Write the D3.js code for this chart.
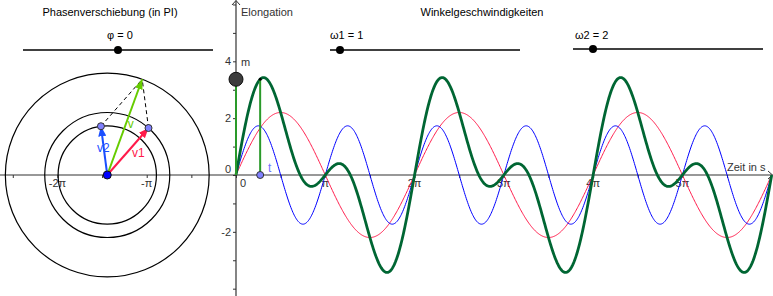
<!DOCTYPE html>
<html lang="de">
<head>
<meta charset="UTF-8">
<title>Überlagerung von Schwingungen</title>
<script src="https://d3js.org/d3.v7.min.js"></script>
<style>
    body { margin: 0; background: #fff; }
    svg { display: block; font-family: 'Liberation Sans', Arial, sans-serif; }
</style>
</head>
<body>
<div id="chart"></div>
<script>
// values
var amplitudes = [2.2, 1.73];        // r1 (v1, rot), r2 (v2, blau)
var omegas = [1, 2];                 // ω1, ω2
var phi = 0;                         // Phasenverschiebung (in PI)
var tNow = 0.85;                     // aktueller Zeitpunkt t
var circleCenter = [-4.53, 0];       // Mittelpunkt der Kreise
var xTickMultiples = [-2, -1, 1, 2, 3, 4, 5];   // Vielfache von π
var xTickLabels = ["-2π", "-π", "π", "2π", "3π", "4π", "5π"];
var yTickValues = [-2, 2, 4];
var yTickLabels = ["-2", "2", "4"];
var sliderLabels = ["φ = 0", "ω1 = 1", "ω2 = 2"];
var sliderValues = [0, 1, 2];
var sliderDomains = [[-1, 1], [0, 19], [0, 19]];

var width = 773, height = 296;
var svg = d3.select("#chart").append("svg")
    .attr("width", width)
    .attr("height", height);

// same scale on both axes (GeoGebra view)
var x = d3.scaleLinear().domain([0, 6 * Math.PI]).range([236, 771.7]);
var unit = x(1) - x(0);
var y = d3.scaleLinear().domain([0, 1]).range([175, 175 - unit]);

var axisColor = "#333";

// ---- axes ----
var halfPi = d3.range(-5, 12).map(function (k) { return k * Math.PI / 2; });
var xAxis = svg.append("g")
    .attr("transform", "translate(0," + y(0) + ")")
    .call(d3.axisBottom(x).tickValues(halfPi).tickSize(3).tickFormat(""));
xAxis.select(".domain").remove();
xAxis.selectAll("line").attr("stroke", axisColor);

var yAxis = svg.append("g")
    .attr("transform", "translate(" + x(0) + ",0)")
    .call(d3.axisLeft(y).tickValues(d3.range(-4, 7)).tickSize(3).tickFormat(""));
yAxis.select(".domain").remove();
yAxis.selectAll("line").attr("stroke", axisColor);

svg.append("line")
    .attr("x1", 0).attr("x2", width - 0.5)
    .attr("y1", y(0)).attr("y2", y(0))
    .attr("stroke", axisColor).attr("stroke-width", 1.2);
svg.append("polyline")
    .attr("points", [[width - 5, y(0) - 4], [width - 0.5, y(0)], [width - 5, y(0) + 4]].join(" "))
    .attr("fill", "none").attr("stroke", axisColor);

svg.append("line")
    .attr("x1", x(0)).attr("x2", x(0))
    .attr("y1", 0.5).attr("y2", height)
    .attr("stroke", axisColor).attr("stroke-width", 1.2);
svg.append("polyline")
    .attr("points", [[x(0) - 4, 5], [x(0), 0.5], [x(0) + 4, 5]].join(" "))
    .attr("fill", "none").attr("stroke", axisColor);

svg.selectAll("text.xlab")
    .data(xTickMultiples)
    .enter().append("text")
    .attr("class", "xlab")
    .attr("x", function (d) { return x(d * Math.PI); })
    .attr("y", 187)
    .attr("text-anchor", "middle")
    .attr("font-size", 11)
    .attr("fill", axisColor)
    .text(function (d, i) { return xTickLabels[i]; });

svg.selectAll("text.ylab")
    .data(yTickValues)
    .enter().append("text")
    .attr("class", "ylab")
    .attr("x", x(0) - 5)
    .attr("y", function (d) { return y(d); })
    .attr("dy", "0.35em")
    .attr("text-anchor", "end")
    .attr("font-size", 11)
    .attr("fill", axisColor)
    .text(function (d, i) { return yTickLabels[i]; });

// origin labels
svg.append("text").attr("x", x(0) - 5).attr("y", y(0) - 2)
    .attr("text-anchor", "end").attr("font-size", 11).attr("fill", axisColor).text("0");
svg.append("text").attr("x", x(0) + 4).attr("y", 187)
    .attr("font-size", 11).attr("fill", axisColor).text("0");

svg.append("text").attr("x", 241).attr("y", 16)
    .attr("font-size", 11).attr("fill", axisColor).text("Elongation");
svg.append("text").attr("x", 727).attr("y", 171)
    .attr("font-size", 11).attr("fill", axisColor).text("Zeit in s");

// ---- titles and sliders ----
svg.append("text").attr("x", 110).attr("y", 16).attr("text-anchor", "middle")
    .attr("font-size", 11).text("Phasenverschiebung (in PI)");
svg.append("text").attr("x", 482).attr("y", 16).attr("text-anchor", "middle")
    .attr("font-size", 11).text("Winkelgeschwindigkeiten");

var sliderBoxes = [
    { x0: 23, x1: 213, y: 50, labelX: 107 },
    { x0: 330, x1: 520, y: 50, labelX: 330 },
    { x0: 573, x1: 763, y: 49, labelX: 575 }
];
sliderBoxes.forEach(function (b, i) {
    var s = d3.scaleLinear().domain(sliderDomains[i]).range([b.x0, b.x1]);
    svg.append("line")
        .attr("x1", b.x0).attr("x2", b.x1).attr("y1", b.y).attr("y2", b.y)
        .attr("stroke", "#000").attr("stroke-width", 1.4);
    svg.append("circle")
        .attr("cx", s(sliderValues[i]))
        .attr("cy", b.y).attr("r", 4).attr("fill", "#000");
    svg.append("text")
        .attr("x", b.labelX).attr("y", 39)
        .attr("font-size", 11)
        .text(sliderLabels[i]);
});

// ---- oscillation curves ----
var red = "#ff1a4a", blue = "#0000ff", dark = "#006633";
var ts = d3.range(0, 6 * Math.PI + 0.001, 6 * Math.PI / 800);
function s1(t) { return amplitudes[0] * Math.sin(omegas[0] * t); }
function s2(t) { return amplitudes[1] * Math.sin(omegas[1] * t + phi * Math.PI); }

var line = d3.line().x(function (d) { return x(d[0]); }).y(function (d) { return y(d[1]); });
svg.append("path").datum(ts.map(function (t) { return [t, s1(t)]; }))
    .attr("d", line).attr("fill", "none").attr("stroke", red).attr("stroke-width", 1);
svg.append("path").datum(ts.map(function (t) { return [t, s2(t)]; }))
    .attr("d", line).attr("fill", "none").attr("stroke", blue).attr("stroke-width", 1);
svg.append("path").datum(ts.map(function (t) { return [t, s1(t) + s2(t)]; }))
    .attr("d", line).attr("fill", "none").attr("stroke", dark).attr("stroke-width", 2.8);

// current value at t
var sNow = s1(tNow) + s2(tNow);
var lineGreen = "#2a9a2a";
svg.append("line")
    .attr("x1", x(0)).attr("x2", x(0)).attr("y1", y(0)).attr("y2", y(sNow))
    .attr("stroke", lineGreen).attr("stroke-width", 2);
svg.append("line")
    .attr("x1", x(tNow)).attr("x2", x(tNow)).attr("y1", y(0)).attr("y2", y(sNow))
    .attr("stroke", lineGreen).attr("stroke-width", 2);
svg.append("circle").attr("cx", x(tNow)).attr("cy", y(sNow)).attr("r", 1.5).attr("fill", "#000");
svg.append("circle").attr("cx", x(0)).attr("cy", y(sNow)).attr("r", 7)
    .attr("fill", "#3c3c3c").attr("stroke", "#111");
svg.append("text").attr("x", 241).attr("y", 66).attr("font-size", 11).attr("fill", axisColor).text("m");
svg.append("circle").attr("cx", x(tNow)).attr("cy", y(0)).attr("r", 3.5)
    .attr("fill", "#8080ff").attr("stroke", "#333");
svg.append("text").attr("x", 268).attr("y", 172).attr("font-size", 12).attr("fill", "#7070ff").text("t");

// ---- pointer diagram ----
var cx = x(circleCenter[0]), cy = y(circleCenter[1]);
var v1 = [amplitudes[0] * Math.cos(omegas[0] * tNow), amplitudes[0] * Math.sin(omegas[0] * tNow)];
var v2 = [amplitudes[1] * Math.cos(omegas[1] * tNow + phi * Math.PI), amplitudes[1] * Math.sin(omegas[1] * tNow + phi * Math.PI)];
var v = [v1[0] + v2[0], v1[1] + v2[1]];
function px(p) { return [x(circleCenter[0] + p[0]), y(circleCenter[1] + p[1])]; }

[amplitudes[0], amplitudes[1], Math.hypot(v[0], v[1])].forEach(function (r) {
    svg.append("circle").attr("cx", cx).attr("cy", cy).attr("r", r * unit)
        .attr("fill", "none").attr("stroke", "#000").attr("stroke-width", 1.2);
});

[v1, v2].forEach(function (p) {
    svg.append("line")
        .attr("x1", px(p)[0]).attr("y1", px(p)[1])
        .attr("x2", px(v)[0]).attr("y2", px(v)[1])
        .attr("stroke", "#000").attr("stroke-dasharray", "4,3");
});

var defs = svg.append("defs");
function arrow(id, color) {
    defs.append("marker")
        .attr("id", id).attr("viewBox", "0 0 10 8")
        .attr("refX", 10).attr("refY", 4)
        .attr("markerWidth", 10).attr("markerHeight", 8)
        .attr("markerUnits", "userSpaceOnUse")
        .attr("orient", "auto")
        .append("path").attr("d", "M0,0L10,4L0,8Z").attr("fill", color);
}
var vecs = [
    { p: v, color: "#66cc00", id: "ah-v", label: "v", dx: 3, dy: 1 },
    { p: v1, color: "#ff1a4a", id: "ah-v1", label: "v1", dx: 4, dy: 5 },
    { p: v2, color: "#1a4fff", id: "ah-v2", label: "v2", dx: -7, dy: 1 }
];
vecs.forEach(function (d) {
    arrow(d.id, d.color);
    var end = px(d.p);
    svg.append("line")
        .attr("x1", cx).attr("y1", cy).attr("x2", end[0]).attr("y2", end[1])
        .attr("stroke", d.color).attr("stroke-width", 2)
        .attr("marker-end", "url(#" + d.id + ")");
    svg.append("text")
        .attr("x", (cx + end[0]) / 2 + d.dx).attr("y", (cy + end[1]) / 2 + d.dy)
        .attr("font-size", 12).attr("fill", d.color).text(d.label);
});

[v1, v2].forEach(function (p) {
    svg.append("circle").attr("cx", px(p)[0]).attr("cy", px(p)[1]).attr("r", 3.5)
        .attr("fill", "#8080ff").attr("stroke", "#333");
});
svg.append("circle").attr("cx", cx).attr("cy", cy).attr("r", 4)
    .attr("fill", "#0000ff").attr("stroke", "#111");
</script>
</body>
</html>
